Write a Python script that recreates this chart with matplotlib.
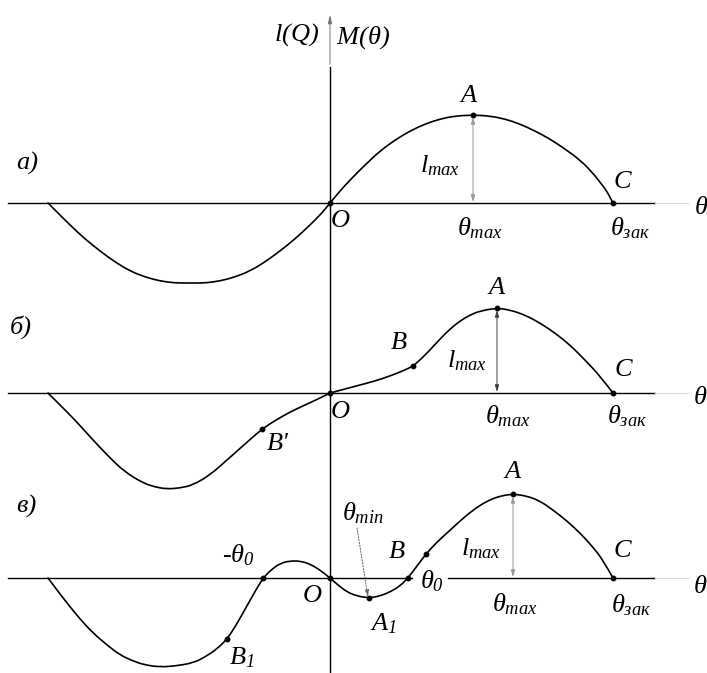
import numpy as np
import matplotlib
matplotlib.use("Agg")
import matplotlib.pyplot as plt
from matplotlib.path import Path
from matplotlib.patches import PathPatch

plt.rcParams['mathtext.fontset'] = 'custom'
plt.rcParams['mathtext.it'] = 'Liberation Serif:italic'
plt.rcParams['mathtext.rm'] = 'Liberation Serif:italic'
plt.rcParams['mathtext.bf'] = 'Liberation Serif:italic'
plt.rcParams['font.family'] = ['Liberation Serif', 'DejaVu Serif']

# ---------------- data (theta offset from O, righting arm l) ----------------
a_th = [-282, -272, -260, -245, -230, -215, -200, -185, -170, -155, -140, -125, -110, -95, -80, -65, -50, -35, -20, -8, 0,
        10, 20, 35, 50, 65, 80, 95, 110, 125, 143, 160, 175, 190, 205, 220, 235, 250, 262, 273, 278, 283]
a_l = [0, -10, -22, -36, -48, -59, -68, -74, -78, -80, -80, -80, -78, -74, -68, -59, -48, -36, -22, -10, 0,
       12, 23, 38, 52, 63, 72, 79, 84, 87, 88, 87, 84, 79, 72, 64, 54, 43, 31, 17, 10, 0]

b_th = [-282, -270, -255, -237, -220, -205, -187, -175, -163, -150, -137, -120, -103, -85, -68, -54, -40, -25, -12, 0,
        15, 30, 45, 60, 75, 83, 90, 100, 110, 120, 130, 140, 150, 167, 180, 195, 210, 225, 240, 255, 270, 283]
b_l = [0, -12, -27, -47, -65, -79, -90, -94, -96, -95, -92, -82, -67, -51, -36, -27, -19, -12, -6, 0,
       4, 8, 12, 17, 23, 27, 33, 43, 54, 64, 72, 78, 82, 85, 83, 78, 70, 60, 48, 33, 17, 0]

c_th = [-282, -273, -263, -250, -237, -223, -210, -197, -185, -170, -155, -137, -125, -113, -103, -95, -87, -77, -67,
        -58, -49, -40, -30, -20, -10, 0,
        8, 17, 27, 39, 50, 60, 70, 78, 87, 96, 106, 117, 130, 143, 157, 170, 183, 197, 210, 223, 237, 250, 262, 273, 283]
c_l = [0, -12, -25, -41, -55, -67, -77, -83, -87, -89, -88, -85, -79, -71, -61, -49, -35, -17, 0,
       9, 15, 17, 17, 14, 8, 0,
       -7, -14, -18, -20, -18, -14, -8, 0, 12, 24, 35, 45, 57, 68, 77, 82, 84, 82, 77, 68, 57, 45, 32, 18, 0]

# marked points
a_pts_th = [0, 143, 283]
a_pts_l = [0, 88, 0]
b_pts_th = [-68, 0, 83, 167, 283]
b_pts_l = [-36, 0, 27, 85, 0]
c_pts_th = [-103, -67, 0, 39, 78, 96, 183, 283]
c_pts_l = [-61, 0, 0, -20, 0, 24, 84, 0]

# ---------------- layout ----------------
W, H = 707, 673
X0 = 330
bases = {'a': 203, 'b': 393, 'c': 578}

fig = plt.figure(figsize=(W / 100, H / 100), dpi=100)
ax = fig.add_axes([0, 0, 1, 1])
ax.set_xlim(0, W)
ax.set_ylim(H, 0)
ax.axis('off')

FS = 19


def px(th):
    return X0 + np.asarray(th, float)


def py(base, l):
    return base - np.asarray(l, float)


def smooth_path(xs, ys):
    """Quadratic-Bezier path using the read points as control points."""
    pts = np.column_stack([xs, ys])
    verts = [pts[0]]
    codes = [Path.MOVETO]
    for i in range(1, len(pts) - 1):
        end = pts[i + 1] if i == len(pts) - 2 else (pts[i] + pts[i + 1]) / 2
        verts += [pts[i], end]
        codes += [Path.CURVE3, Path.CURVE3]
    if len(pts) == 2:
        verts.append(pts[1])
        codes.append(Path.LINETO)
    return Path(verts, codes)


# vertical axis
ax.plot([X0, X0], [H, 67], color='black', lw=1.0)
ax.annotate('', xy=(X0, 12), xytext=(X0, 67),
            arrowprops=dict(arrowstyle='-|>,head_length=0.5,head_width=0.12', color='0.45', lw=0.7))

# baselines
for key, base in bases.items():
    if key == 'c':
        ax.plot([8, 412], [base, base], color='black', lw=1.0)
        ax.plot([448, 655], [base, base], color='black', lw=1.0)
    else:
        ax.plot([8, 655], [base, base], color='black', lw=1.0)
    ax.plot([655, 688], [base, base], color='0.85', lw=0.8)

# curves
for th, l, key in [(a_th, a_l, 'a'), (b_th, b_l, 'b'), (c_th, c_l, 'c')]:
    ax.add_patch(PathPatch(smooth_path(px(th), py(bases[key], l)), fill=False,
                           edgecolor='black', lw=1.2, capstyle='round'))

for th, l, key in [(a_pts_th, a_pts_l, 'a'), (b_pts_th, b_pts_l, 'b'), (c_pts_th, c_pts_l, 'c')]:
    ax.plot(px(th), py(bases[key], l), 'o', color='black', ms=3.2)

# l_max arrows
for th, l, key, col in [(143, 88, 'a', '0.6'), (167, 85, 'b', '0.25'), (183, 84, 'c', '0.6')]:
    ax.annotate('', xy=(px(th), py(bases[key], l) + 2), xytext=(px(th), bases[key] - 1),
                arrowprops=dict(arrowstyle='<|-|>,head_length=0.4,head_width=0.12',
                                color=col, lw=0.7, shrinkA=0, shrinkB=0))

# theta_min dotted arrow
ax.annotate('', xy=(px(38), py(bases['c'], -19)), xytext=(357, 528),
            arrowprops=dict(arrowstyle='-|>,head_length=0.4,head_width=0.12',
                            color='0.4', lw=0.7, linestyle=(0, (1.5, 1.5)), shrinkA=0, shrinkB=0))


def t(x, y, s, fs=FS):
    ax.text(x, y, s, fontsize=fs, ha='center', va='center', style='italic',
            family=['Liberation Serif', 'DejaVu Serif'])


# top labels
t(297, 35, r'$l(Q)$')
t(363, 38, r'$M(\theta)$')

# panel a
t(27, 163, 'а)')
t(469, 96, r'$A$')
t(440, 166, r'$l_{max}$')
t(480, 228, r'$\theta_{max}$')
t(630, 228, r'$\theta_{зак}$')
t(623, 182, r'$C$')
t(340, 221, r'$O$')
t(701, 208, r'$\theta$')

# panel b
t(21, 327, 'б)')
t(399, 343, r'$B$')
t(467, 361, r'$l_{max}$')
t(497, 288, r'$A$')
t(624, 370, r'$C$')
t(340, 412, r'$O$')
t(508, 416, r'$\theta_{max}$')
t(627, 416, r'$\theta_{зак}$')
t(700, 398, r'$\theta$')
t(278, 444, "B'")

# panel c
t(26, 506, 'в)')
t(238, 555, r'$\text{-}\theta_0$')
t(312, 596, r'$O$')
t(242, 658, r'$B_1$')
t(363, 513, r'$\theta_{min}$')
t(397, 552, r'$B$')
t(432, 581, r'$\theta_0$')
t(481, 549, r'$l_{max}$')
t(513, 472, r'$A$')
t(515, 604, r'$\theta_{max}$')
t(631, 605, r'$\theta_{зак}$')
t(623, 551, r'$C$')
t(383, 624, r'$A_1$')
t(700, 587, r'$\theta$')

fig.savefig('out.png', dpi=100)
